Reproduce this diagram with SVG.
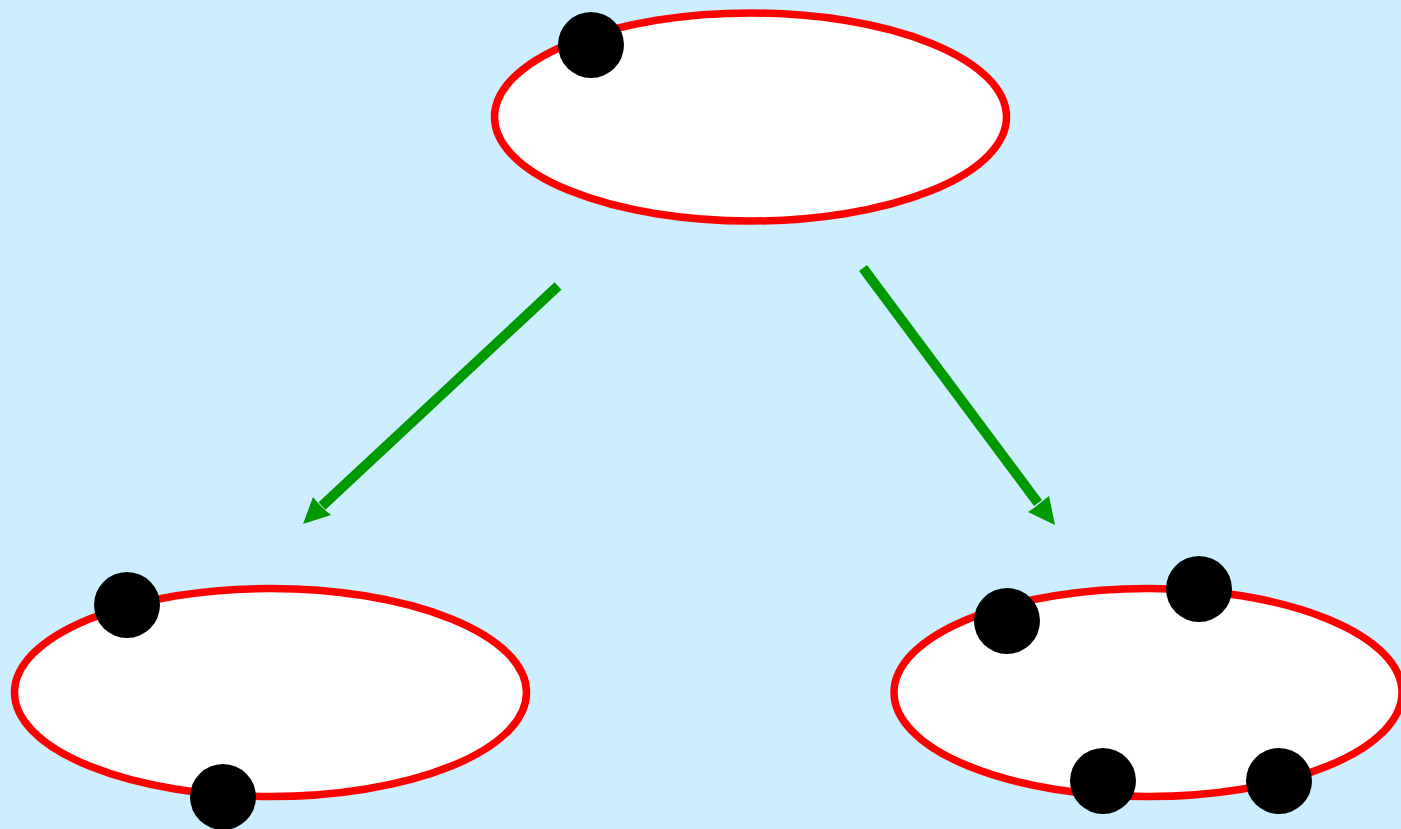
<svg xmlns="http://www.w3.org/2000/svg" width="1401" height="829" viewBox="0 0 1401 829">
<style>
.ring{fill:#ffffff;stroke:#ff0000;stroke-width:7.5}
.dot{fill:#000000}
.shaft{stroke:#009900;stroke-width:10;fill:none}
.head{fill:#009900}
</style>
<rect x="0" y="0" width="1401" height="829" fill="#cceeff"/>
<g id="top">
<ellipse class="ring" cx="750.5" cy="117" rx="256" ry="104"/>
<circle class="dot" cx="591" cy="45" r="33"/>
</g>
<g id="left">
<ellipse class="ring" cx="270.5" cy="692.5" rx="256" ry="104"/>
<circle class="dot" cx="127" cy="605" r="33"/>
<circle class="dot" cx="223" cy="797" r="33"/>
</g>
<g id="right">
<ellipse class="ring" cx="1148" cy="692.5" rx="254" ry="104"/>
<circle class="dot" cx="1007" cy="621" r="33"/>
<circle class="dot" cx="1199" cy="589" r="33"/>
<circle class="dot" cx="1103" cy="781" r="33"/>
<circle class="dot" cx="1279" cy="781" r="33"/>
</g>
<g id="connectors">
<line class="shaft" x1="558" y1="286" x2="322" y2="506"/>
<polygon class="head" points="303,524 313,497 318,503 326,511 331,515"/>
<line class="shaft" x1="863" y1="268" x2="1038" y2="503"/>
<polygon class="head" points="1055,525 1049,496 1044,500 1034,508 1028,512"/>
</g>
</svg>
